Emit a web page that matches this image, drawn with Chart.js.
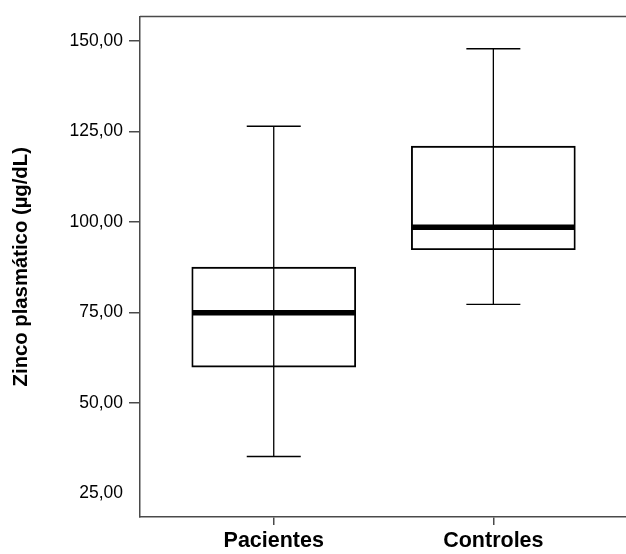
<!DOCTYPE html>
<html>
<head>
<meta charset="utf-8">
<script src="https://cdn.jsdelivr.net/npm/chart.js@4/dist/chart.umd.min.js"></script>
<style>
html,body{margin:0;padding:0;background:#fff;overflow:hidden;}
#wrap{width:626px;height:554px;position:relative;}
</style>
</head>
<body>
<div id="wrap"><canvas id="c" width="626" height="554"></canvas></div>
<script>
// ---- data ----
const categories = ['Pacientes', 'Controles'];
const whiskerMin = [35.2, 77.2];
const q1 = [59.9, 92.3];
const median = [74.9, 98.5];
const q3 = [87.5, 120.9];
const whiskerMax = [126.4, 147.8];
const yTicks = [25, 50, 75, 100, 125, 150];
const yTitle = 'Zinco plasmático (µg/dL)';

const axisColor = '#4a4a4a';
const FONT = "'Liberation Sans', Arial, Helvetica, sans-serif";

const boxPlugin = {
  id: 'boxParts',
  beforeDatasetsDraw(chart) {
    const {ctx, scales:{x, y}, chartArea} = chart;
    ctx.save();
    // top frame line
    ctx.strokeStyle = axisColor;
    ctx.lineWidth = 1.5;
    ctx.beginPath();
    ctx.moveTo(chartArea.left, chartArea.top);
    ctx.lineTo(chart.width, chartArea.top);
    ctx.stroke();
    // whiskers
    ctx.strokeStyle = '#000';
    ctx.lineWidth = 1.3;
    categories.forEach((c, i) => {
      const cx = x.getPixelForValue(i + 1);
      const yMin = y.getPixelForValue(whiskerMin[i]);
      const yMax = y.getPixelForValue(whiskerMax[i]);
      const half = 27;
      ctx.beginPath();
      ctx.moveTo(cx, yMin); ctx.lineTo(cx, yMax);
      ctx.moveTo(cx - half, yMin); ctx.lineTo(cx + half, yMin);
      ctx.moveTo(cx - half, yMax); ctx.lineTo(cx + half, yMax);
      ctx.stroke();
    });
    ctx.restore();
  },
  afterDatasetsDraw(chart) {
    const {ctx, scales:{x, y}} = chart;
    ctx.save();
    ctx.strokeStyle = '#000';
    ctx.lineWidth = 5.5;
    categories.forEach((c, i) => {
      const cx = x.getPixelForValue(i + 1);
      const ym = y.getPixelForValue(median[i]);
      ctx.beginPath();
      ctx.moveTo(cx - 81.5, ym); ctx.lineTo(cx + 81.5, ym);
      ctx.stroke();
    });
    ctx.restore();
  }
};

new Chart(document.getElementById('c'), {
  type: 'bar',
  data: {
    datasets: [{
      data: categories.map((c, i) => ({x: i + 1, y: [q1[i], q3[i]]})),
      backgroundColor: 'rgba(0,0,0,0)',
      borderColor: '#000',
      borderWidth: 1.2,
      borderSkipped: false,
      barThickness: 164
    }]
  },
  options: {
    responsive: false,
    animation: false,
    layout: {padding: {top: 14, right: 0, bottom: 0, left: 0}},
    plugins: {legend: {display: false}, tooltip: {enabled: false}},
    scales: {
      x: {
        type: 'linear',
        offset: false,
        min: 0.391,
        max: 2.604,
        afterBuildTicks(scale) { scale.ticks = categories.map((c, i) => ({value: i + 1})); },
        afterFit(scale) { scale.height = 37; },
        grid: {offset: false, drawOnChartArea: false, drawTicks: true, tickLength: 8, color: axisColor, lineWidth: 1.5},
        border: {display: true, color: axisColor, width: 1.5},
        ticks: {
          color: '#000',
          padding: 3,
          autoSkip: false,
          maxRotation: 0,
          font: {family: FONT, size: 21.5, weight: 'bold'},
          callback: (v) => categories[Math.round(v) - 1] || ''
        }
      },
      y: {
        type: 'linear',
        min: 18.5,
        max: 156.7,
        afterBuildTicks(scale) { scale.ticks = yTicks.map(v => ({value: v})); },
        afterFit(scale) { scale.width = 140; },
        grid: {
          drawOnChartArea: false, drawTicks: true, tickLength: 11, lineWidth: 1.5,
          color: (ctx) => (ctx.tick && ctx.tick.value === 25) ? 'rgba(0,0,0,0)' : axisColor
        },
        border: {display: true, color: axisColor, width: 1.5},
        title: {
          display: true,
          text: yTitle,
          color: '#000',
          font: {family: FONT, size: 20.3, weight: 'bold'},
          padding: {top: 9, bottom: 0}
        },
        ticks: {
          color: '#000',
          padding: 6,
          font: {family: FONT, size: 17.5},
          callback: (v) => Number(v).toFixed(2).replace('.', ',')
        }
      }
    }
  },
  plugins: [boxPlugin]
});
</script>
</body>
</html>
